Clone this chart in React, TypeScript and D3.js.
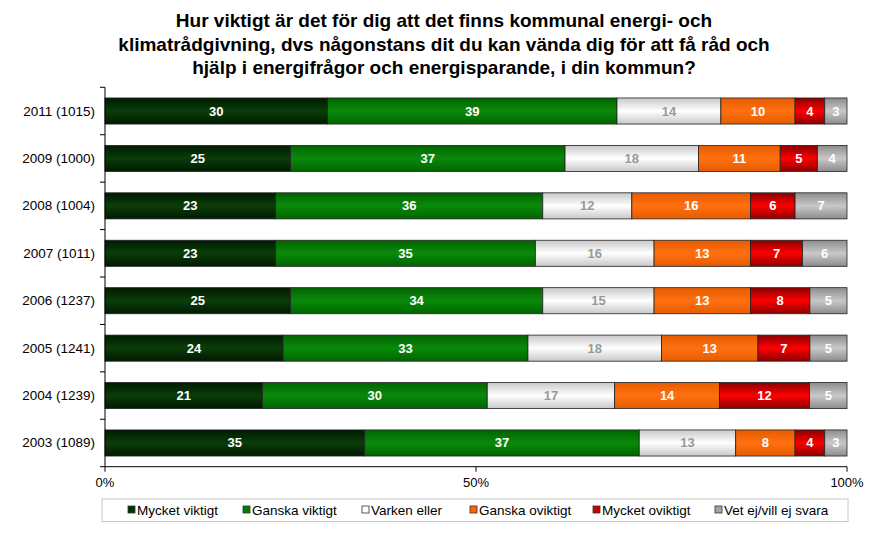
import React from "react";
import * as d3 from "d3";

const categories = ["2011 (1015)", "2009 (1000)", "2008 (1004)", "2007 (1011)", "2006 (1237)", "2005 (1241)", "2004 (1239)", "2003 (1089)"];
const seriesNames = ["Mycket viktigt", "Ganska viktigt", "Varken eller", "Ganska oviktigt", "Mycket oviktigt", "Vet ej/vill ej svara"];
const mycketViktigt = [30, 25, 23, 23, 25, 24, 21, 35];
const ganskaViktigt = [39, 37, 36, 35, 34, 33, 30, 37];
const varkenEller = [14, 18, 12, 16, 15, 18, 17, 13];
const ganskaOviktigt = [10, 11, 16, 13, 13, 13, 14, 8];
const mycketOviktigt = [4, 5, 6, 7, 8, 7, 12, 4];
const vetEj = [3, 4, 7, 6, 5, 5, 5, 3];
const xTicks = [0, 0.5, 1];
const titleLines = [
  "Hur viktigt är det för dig att det finns kommunal energi- och",
  "klimatrådgivning,  dvs någonstans dit du kan vända dig för att få råd och",
  "hjälp i energifrågor och energisparande, i din kommun?",
];

const series = [mycketViktigt, ganskaViktigt, varkenEller, ganskaOviktigt, mycketOviktigt, vetEj];
const colors = [
  { edge: "#001a00", mid: "#0a3d0a", legend: "#003300", text: "#ffffff" },
  { edge: "#006400", mid: "#0a8a0a", legend: "#008000", text: "#ffffff" },
  { edge: "#c8c8c8", mid: "#ffffff", legend: "#ffffff", text: "#999999" },
  { edge: "#e65c00", mid: "#ff7010", legend: "#ff6600", text: "#ffffff" },
  { edge: "#8a0000", mid: "#ff0000", legend: "#cc0000", text: "#ffffff" },
  { edge: "#8c8c8c", mid: "#c8c8c8", legend: "#a6a6a6", text: "#ffffff" },
];

const W = 886;
const H = 534;
const left = 105;
const right = 847;
const top = 87.3;
const bottom = 466.7;
const font = "'Liberation Sans', Arial, sans-serif";

export default function App() {
  const x = d3.scaleLinear().domain([0, 1]).range([left, right]);
  const y = d3.scaleBand().domain(categories).range([top, bottom]).paddingInner(0.45).paddingOuter(0.225);
  const bandStep = y.step();

  const rows = categories.map((cat, i) => {
    const vals = series.map((s) => s[i]);
    const total = d3.sum(vals);
    let acc = 0;
    return vals.map((v, j) => {
      const x0 = acc / total;
      acc += v;
      const x1 = acc / total;
      return { cat, v, j, x0, x1 };
    });
  });

  const legendX = [128, 243, 362, 470, 593, 715];

  return (
    <svg width={W} height={H} style={{ position: "absolute", left: 0, top: 0 }} fontFamily={font}>
      <defs>
        {colors.map((c, j) => (
          <linearGradient key={j} id={"g" + j} x1="0" y1="0" x2="0" y2="1">
            <stop offset="0" stopColor={c.edge} />
            <stop offset="0.5" stopColor={c.mid} />
            <stop offset="1" stopColor={c.edge} />
          </linearGradient>
        ))}
      </defs>
      <rect width={W} height={H} fill="#ffffff" />
      {titleLines.map((t, i) => (
        <text key={i} x={444} y={27 + i * 23.5} textAnchor="middle" fontSize={19} fontWeight="bold" fill="#000">
          {t}
        </text>
      ))}
      {rows.map((segs, i) => (
        <g key={i}>
          {segs.map((s) => (
            <rect
              key={s.j}
              x={x(s.x0)}
              y={y(s.cat)!}
              width={x(s.x1) - x(s.x0)}
              height={y.bandwidth()}
              fill={`url(#g${s.j})`}
              stroke="#222"
              strokeWidth={0.8}
            />
          ))}
          {segs.map((s) => (
            <text
              key={"t" + s.j}
              x={(x(s.x0) + x(s.x1)) / 2}
              y={y(s.cat)! + y.bandwidth() / 2 + 4.5}
              textAnchor="middle"
              fontSize={13}
              fontWeight="bold"
              fill={colors[s.j].text}
            >
              {s.v}
            </text>
          ))}
          <text x={95} y={y(segs[0].cat)! + y.bandwidth() / 2 + 4.5} textAnchor="end" fontSize={13.5} fill="#000">
            {segs[0].cat}
          </text>
        </g>
      ))}
      <line x1={left} x2={left} y1={top} y2={bottom} stroke="#000" strokeWidth={1} />
      {d3.range(categories.length + 1).map((k) => (
        <line key={k} x1={left - 5} x2={left} y1={top + k * bandStep} y2={top + k * bandStep} stroke="#000" />
      ))}
      <line x1={left} x2={right} y1={bottom} y2={bottom} stroke="#000" strokeWidth={1} />
      {xTicks.map((t) => (
        <g key={t}>
          <line x1={x(t)} x2={x(t)} y1={bottom} y2={bottom + 5} stroke="#000" />
          <text x={x(t)} y={bottom + 20} textAnchor="middle" fontSize={13} fill="#000">
            {d3.format(".0%")(t)}
          </text>
        </g>
      ))}
      <rect x={102} y={499} width={746} height={22.5} fill="#fff" stroke="#c8c8c8" strokeWidth={1} />
      {seriesNames.map((n, j) => (
        <g key={n}>
          <rect x={legendX[j]} y={506} width={7} height={7} fill={colors[j].legend} stroke="#333" strokeWidth={0.8} />
          <text x={legendX[j] + 9} y={515} fontSize={13.5} fill="#000">
            {n}
          </text>
        </g>
      ))}
    </svg>
  );
}
